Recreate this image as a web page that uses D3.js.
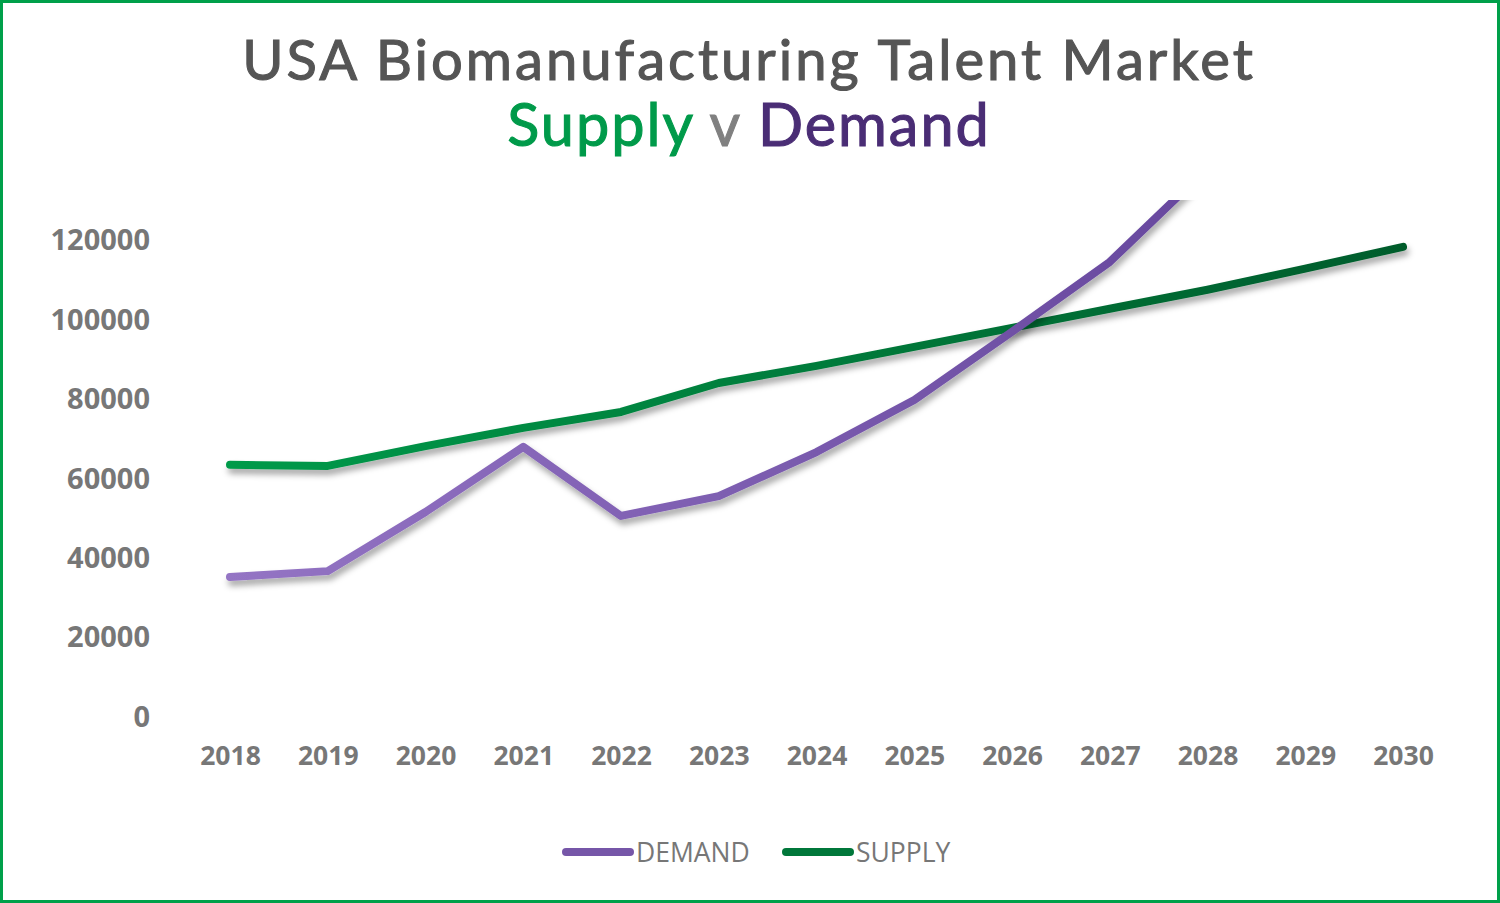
<!DOCTYPE html>
<html><head><meta charset="utf-8">
<script src="https://cdn.jsdelivr.net/npm/d3@7"></script>
<style>html,body{margin:0;padding:0;background:#fff;}svg{display:block;}</style>
</head><body>
<svg id="c" width="1500" height="903"></svg>
<script>
const years = [2018,2019,2020,2021,2022,2023,2024,2025,2026,2027,2028,2029,2030];
const demand = [35000,36500,51400,67800,50400,55400,66500,79600,96800,114400,138000,160000,185000];
const supply = [63300,63000,68000,72600,76600,83900,88200,93000,97800,102600,107400,112700,118200];
const yTicks = [0,20000,40000,60000,80000,100000,120000];
const seriesNames = ["DEMAND","SUPPLY"];

const svg = d3.select("#c");
const W=1500,H=903;
svg.append("rect").attr("x",1.5).attr("y",1.5).attr("width",W-3).attr("height",H-3)
  .attr("fill","#fff").attr("stroke","#00A04A").attr("stroke-width",3);

const defs = svg.append("defs");
const f = defs.append("filter").attr("id","sh").attr("x","-10%").attr("y","-10%").attr("width","120%").attr("height","130%");
f.append("feDropShadow").attr("dx",2).attr("dy",5).attr("stdDeviation",3).attr("flood-color","#000").attr("flood-opacity",0.35);

const x = d3.scalePoint().domain(years).range([230,1403]);
const y = d3.scaleLinear().domain([0,130000]).range([716,200]);

function grad(id,c1,c2){
  const g=defs.append("linearGradient").attr("id",id).attr("gradientUnits","userSpaceOnUse")
    .attr("x1",230).attr("x2",1403).attr("y1",0).attr("y2",0);
  g.append("stop").attr("offset",0).attr("stop-color",c1);
  g.append("stop").attr("offset",1).attr("stop-color",c2);
}
grad("gd","#9474C4","#5E3F96");
grad("gs","#009A4A","#005C2C");
defs.append("clipPath").attr("id","clip").append("rect").attr("x",150).attr("y",200).attr("width",1320).attr("height",560);

// Title
const t1 = svg.append("text").attr("x",749).attr("y",80).attr("text-anchor","middle")
  .attr("font-family","Lato").attr("font-size",52).attr("fill","#555555").attr("letter-spacing",3)
  .attr("stroke","#555555").attr("stroke-width",1.1)
  .text("USA Biomanufacturing Talent Market");
const t2 = svg.append("text").attr("x",749).attr("y",146).attr("text-anchor","middle")
  .attr("font-family","Lato").attr("font-size",52).attr("letter-spacing",2).attr("stroke-width",1.1);
t2.append("tspan").attr("fill","#009A4A").attr("stroke","#009A4A").text("Supply");
t2.append("tspan").attr("fill","#808080").attr("stroke","#808080").text(" v ");
t2.append("tspan").attr("fill","#4A2D75").attr("stroke","#4A2D75").text("Demand");
function fitW(sel,w){ const l=sel.node().getComputedTextLength(); const fs=+sel.attr("font-size"); sel.attr("font-size",fs*w/l); }
fitW(t1,1022); fitW(t2,488);

// Axes
const yAxis = d3.axisLeft(y).tickValues(yTicks).tickSize(0).tickPadding(0).tickFormat(d3.format("d"));
const ga = svg.append("g").attr("transform","translate(150,0)").call(yAxis);
ga.select(".domain").remove();
ga.selectAll("text").attr("font-family","Open Sans").attr("font-weight",700).attr("font-size",29).attr("fill","#777").attr("dy","0.35em");

const xAxis = d3.axisBottom(x).tickSize(0).tickPadding(0);
const gx = svg.append("g").attr("transform","translate(0,746)").call(xAxis);
gx.select(".domain").remove();
gx.selectAll("text").attr("font-family","Open Sans").attr("font-weight",700).attr("font-size",26.5).attr("fill","#777").attr("dy","0.7em");

const line = d3.line().x((d,i)=>x(years[i])).y(d=>y(d));
const plot = svg.append("g").attr("clip-path","url(#clip)");
plot.append("path").datum(supply).attr("d",line).attr("fill","none").attr("stroke","url(#gs)")
  .attr("stroke-width",8).attr("stroke-linecap","round").attr("stroke-linejoin","round").attr("filter","url(#sh)");
plot.append("path").datum(demand).attr("d",line).attr("fill","none").attr("stroke","url(#gd)")
  .attr("stroke-width",8).attr("stroke-linecap","round").attr("stroke-linejoin","round").attr("filter","url(#sh)");

// Legend
const lg = [{n:seriesNames[0],c:"#7656A8",x:562},{n:seriesNames[1],c:"#00773A",x:782}];
lg.forEach(d=>{
  svg.append("line").attr("x1",d.x+4).attr("x2",d.x+68).attr("y1",852).attr("y2",852)
    .attr("stroke",d.c).attr("stroke-width",8).attr("stroke-linecap","round");
  svg.append("text").attr("x",d.x+74).attr("y",862).attr("font-family","Open Sans").attr("font-size",26.5)
    .attr("fill","#777").text(d.n);
});
</script>
</body></html>
